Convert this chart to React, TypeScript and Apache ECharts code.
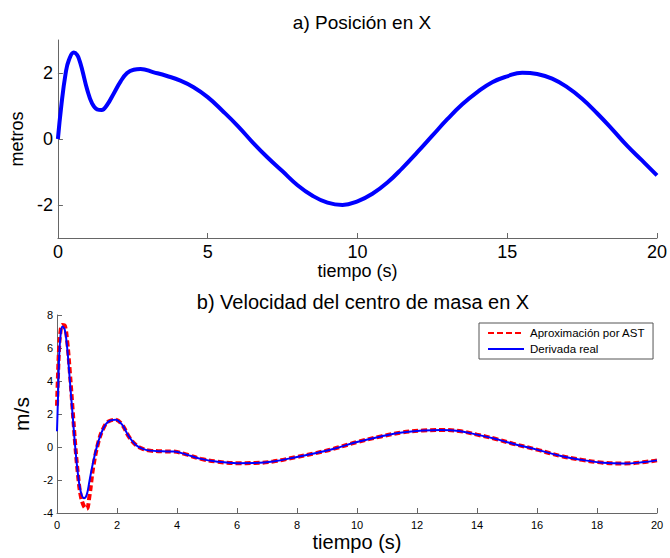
import React, { useEffect, useRef } from "react";
import * as echarts from "echarts";

// a) Posición en X
const posT = [0, 0.11, 0.26, 0.37, 0.53, 0.64, 0.72, 0.81, 0.98, 1.14, 1.31, 1.46, 1.64, 1.87, 2.09, 2.31, 2.53, 2.76, 3.2, 3.64, 4.09, 4.53, 5.0, 5.5, 6.0, 6.5, 7.0, 7.5, 8.0, 8.5, 9.0, 9.5, 10.0, 10.5, 11.0, 11.5, 12.0, 12.5, 13.0, 13.5, 14.0, 14.5, 15.0, 15.5, 16.0, 16.5, 17.0, 17.5, 18.0, 18.5, 19.0, 19.5, 20];
const posX = [0, 0.98, 2.0, 2.4, 2.62, 2.55, 2.38, 2.1, 1.49, 1.08, 0.9, 0.88, 1.03, 1.39, 1.74, 2.0, 2.1, 2.12, 2.02, 1.91, 1.77, 1.57, 1.27, 0.85, 0.4, -0.1, -0.56, -0.98, -1.4, -1.72, -1.93, -2.0, -1.89, -1.66, -1.32, -0.88, -0.4, 0.1, 0.6, 1.05, 1.42, 1.72, 1.9, 2.01, 1.97, 1.83, 1.57, 1.22, 0.78, 0.3, -0.2, -0.65, -1.1];

// b) Velocidad del centro de masa en X
const velT = [0, 0.03, 0.07, 0.11, 0.18, 0.26, 0.34, 0.43, 0.52, 0.61, 0.7, 0.79, 0.9, 0.99, 1.08, 1.21, 1.38, 1.55, 1.72, 1.95, 2.17, 2.39, 2.62, 2.84, 3.1, 3.5, 3.9, 4.3, 4.8, 5.3, 6.0, 6.6, 7.2, 8.0, 8.6, 9.2, 10.0, 10.8, 11.5, 12.2, 12.8, 13.4, 14.0, 14.6, 15.2, 16.0, 16.8, 17.5, 18.2, 18.9, 19.5, 20];
const velReal = [0.95, 2.8, 5.4, 6.6, 7.3, 7.1, 6.0, 4.0, 1.96, -0.06, -1.67, -2.7, -3.1, -2.9, -2.08, -0.87, 0.34, 1.15, 1.55, 1.65, 1.35, 0.65, 0.14, -0.1, -0.22, -0.26, -0.28, -0.45, -0.72, -0.88, -0.98, -0.97, -0.88, -0.6, -0.38, -0.12, 0.3, 0.64, 0.88, 1.0, 1.03, 0.97, 0.75, 0.5, 0.2, -0.16, -0.55, -0.78, -0.95, -1.0, -0.93, -0.81];
const velAST = [2.5, 4.2, 6.0, 6.9, 7.4, 7.35, 6.4, 4.5, 2.3, 0.1, -1.7, -2.95, -3.6, -3.75, -3.0, -1.2, 0.3, 1.15, 1.55, 1.65, 1.35, 0.65, 0.14, -0.1, -0.22, -0.26, -0.28, -0.45, -0.72, -0.88, -0.98, -0.97, -0.88, -0.6, -0.38, -0.12, 0.3, 0.64, 0.88, 1.0, 1.03, 0.97, 0.75, 0.5, 0.2, -0.16, -0.55, -0.78, -0.95, -1.0, -0.93, -0.81];

const topYTicks = [-2, 0, 2];
const seriesNames = ["Aproximación por AST", "Derivada real"];

const FONT = "Liberation Sans, Arial, sans-serif";
const AXIS_COLOR = "#666";

const zip = (xs: number[], ys: number[]) => xs.map((x, i) => [x, ys[i]]);

export default function App() {
  const ref = useRef<HTMLDivElement>(null);
  useEffect(() => {
    if (!ref.current) return;
    const chart = echarts.init(ref.current, undefined, { renderer: "svg" });
    const axisLine = { show: true, onZero: false, lineStyle: { color: AXIS_COLOR, width: 1 } };
    const axisTick = { show: true, inside: true, length: 5, lineStyle: { color: AXIS_COLOR } };
    chart.setOption({
      animation: false,
      backgroundColor: "#fff",
      title: [
        {
          text: "a) Posición en X",
          left: 357,
          textAlign: "center",
          top: 8,
          textStyle: { fontFamily: FONT, fontSize: 19, fontWeight: "normal", color: "#000" },
        },
        {
          text: "b) Velocidad del centro de masa en X",
          left: 358,
          textAlign: "center",
          top: 287,
          textStyle: { fontFamily: FONT, fontSize: 20, fontWeight: "normal", color: "#000" },
        },
      ],
      legend: {
        data: seriesNames,
        orient: "vertical",
        left: 479,
        top: 323,
        padding: [4, 8, 4, 8],
        itemGap: 4,
        itemWidth: 36,
        itemHeight: 12,
        borderColor: "#555",
        borderWidth: 1,
        backgroundColor: "#fff",
        itemStyle: { opacity: 0 },
        textStyle: { fontFamily: FONT, fontSize: 11.5, color: "#000", padding: [0, 0, 0, 1] },
      },
      grid: [
        { left: 57, right: 13, top: 40, height: 198 },
        { left: 57, right: 13, top: 315, height: 198 },
      ],
      xAxis: [
        {
          gridIndex: 0,
          type: "value",
          min: 0,
          max: 20,
          interval: 5,
          axisLine,
          axisTick,
          splitLine: { show: false },
          axisLabel: { fontFamily: FONT, fontSize: 18, color: "#000", margin: 5 },
          name: "tiempo (s)",
          nameLocation: "middle",
          nameGap: 23,
          nameTextStyle: { fontFamily: FONT, fontSize: 18, color: "#000" },
        },
        {
          gridIndex: 1,
          type: "value",
          min: 0,
          max: 20,
          interval: 2,
          axisLine,
          axisTick,
          splitLine: { show: false },
          axisLabel: { fontFamily: FONT, fontSize: 11, color: "#000", margin: 6 },
          name: "tiempo (s)",
          nameLocation: "middle",
          nameGap: 19,
          nameTextStyle: { fontFamily: FONT, fontSize: 20, color: "#000" },
        },
      ],
      yAxis: [
        {
          gridIndex: 0,
          type: "value",
          min: -3,
          max: 3,
          axisLine,
          axisTick: { ...axisTick, customValues: topYTicks },
          splitLine: { show: false },
          axisLabel: { fontFamily: FONT, fontSize: 18, color: "#000", margin: 5, customValues: topYTicks },
          name: "metros",
          nameLocation: "middle",
          nameGap: 29,
          nameTextStyle: { fontFamily: FONT, fontSize: 18, color: "#000" },
        },
        {
          gridIndex: 1,
          type: "value",
          min: -4,
          max: 8,
          interval: 2,
          axisLine,
          axisTick,
          splitLine: { show: false },
          axisLabel: { fontFamily: FONT, fontSize: 11, color: "#000", margin: 4 },
          name: "m/s",
          nameLocation: "middle",
          nameGap: 19,
          nameTextStyle: { fontFamily: FONT, fontSize: 21, color: "#000" },
        },
      ],
      series: [
        {
          type: "line",
          xAxisIndex: 0,
          yAxisIndex: 0,
          data: zip(posT, posX),
          showSymbol: false,
          symbol: "none",
          smooth: 0.45,
          lineStyle: { color: "#0000ff", width: 4 },
          itemStyle: { color: "#0000ff" },
        },
        {
          name: seriesNames[0],
          type: "line",
          xAxisIndex: 1,
          yAxisIndex: 1,
          data: zip(velT, velAST),
          showSymbol: false,
          symbol: "none",
          smooth: 0.4,
          lineStyle: { color: "#ff0000", width: 4, type: [6, 3] },
          itemStyle: { color: "#ff0000" },
        },
        {
          name: seriesNames[1],
          type: "line",
          xAxisIndex: 1,
          yAxisIndex: 1,
          data: zip(velT, velReal),
          showSymbol: false,
          symbol: "none",
          smooth: 0.4,
          lineStyle: { color: "#0000ff", width: 2 },
          itemStyle: { color: "#0000ff" },
        },
      ],
    });
    return () => chart.dispose();
  }, []);
  return (
    <div
      ref={ref}
      style={{ position: "fixed", left: 0, top: 0, width: 670, height: 558, background: "#fff" }}
    />
  );
}
